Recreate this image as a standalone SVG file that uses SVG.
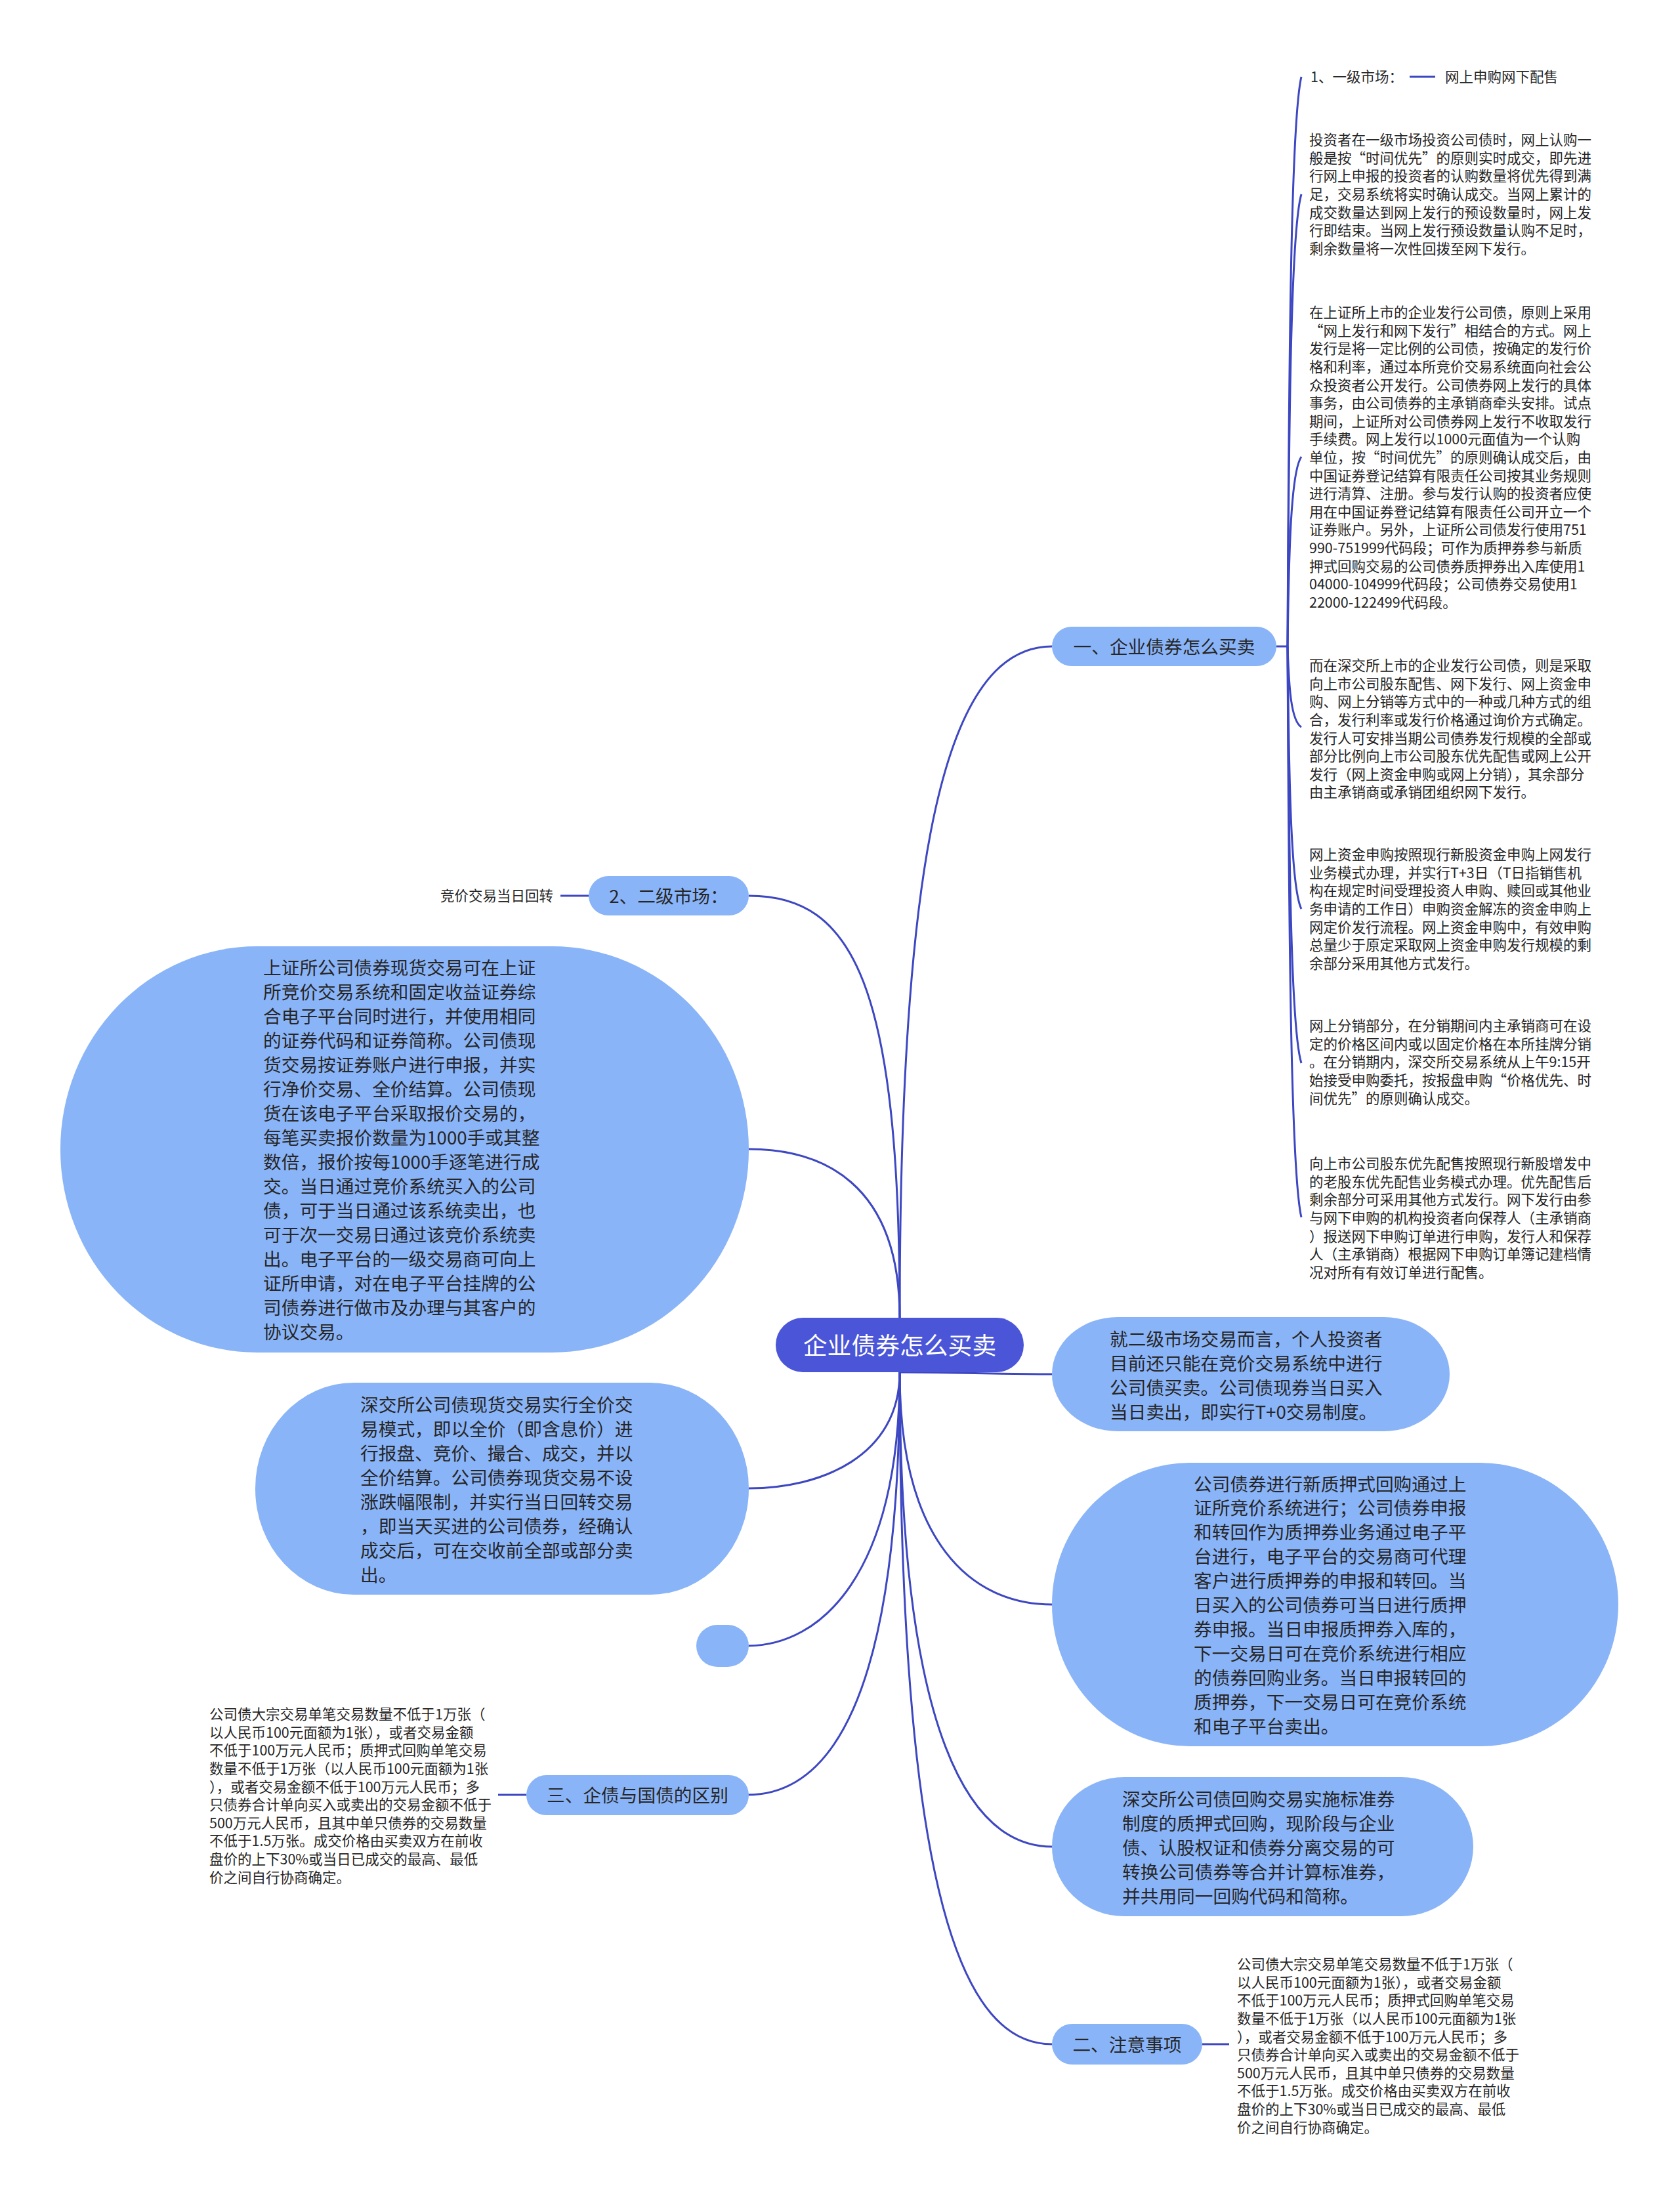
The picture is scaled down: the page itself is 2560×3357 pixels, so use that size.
<svg xmlns="http://www.w3.org/2000/svg" width="2560" height="3357" viewBox="0 0 2560 3357">
<style>
text{font-family:"Noto Sans CJK SC","Noto Sans",sans-serif;fill:#262626}
.leaf{font-size:21.5px}
.nt{font-size:27.7px}
.root{font-size:36.8px;fill:#ffffff}
.lb{fill:#8ab4f8}
.rt{fill:#4a55d8}
.cn path{fill:none;stroke:#3d47c2;stroke-width:3}
</style>
<rect width="2560" height="3357" fill="#ffffff"/>
<g class="cn" id="connectors">
<path d="M1371 2008 C1371 1300 1440 985 1603 985"/>
<path d="M1371 2008 C1371 1500 1300 1365 1141 1365"/>
<path d="M1371 2008 C1371 1800 1250 1751 1141 1751"/>
<path d="M1371 2091 C1450 2091 1500 2094 1603 2094"/>
<path d="M1371 2091 C1371 2220 1250 2268 1141 2268"/>
<path d="M1371 2091 C1371 2400 1250 2508 1139 2508"/>
<path d="M1371 2091 C1371 2600 1260 2735 1139 2735"/>
<path d="M1371 2091 C1371 2350 1480 2445 1603 2445"/>
<path d="M1371 2091 C1371 2650 1480 2814 1603 2814"/>
<path d="M1371 2091 C1371 2900 1470 3115 1603 3115"/>
<path d="M1945 985 L1962 985"/>
<path d="M1962 985 C1964 551 1967 186 1983 117"/>
<path d="M1962 985 C1964 640 1967 351 1983 296"/>
<path d="M1962 985 C1964 840 1967 719 1983 696"/>
<path d="M1962 985 C1964 1046 1967 1098 1983 1108"/>
<path d="M1962 985 C1964 1185 1967 1353 1983 1385"/>
<path d="M1962 985 C1964 1302 1967 1569 1983 1620"/>
<path d="M1962 985 C1964 1420 1967 1785 1983 1855"/>
<path d="M2148 117 L2187 117"/>
<path d="M897 1365 L854 1365"/>
<path d="M802 2735 L759 2735"/>
<path d="M1832 3115 L1873 3115"/>
</g>
<g id="root">
<rect class="rt" x="1182" y="2008" width="378" height="83" rx="41.5"/>
<text class="root" x="1371" y="2063.5" text-anchor="middle">企业债券怎么买卖</text>
</g>
<g id="b1">
<rect class="lb" x="1603" y="955" width="342" height="60" rx="30"/>
<text class="nt" x="1774" y="995.5" text-anchor="middle">一、企业债券怎么买卖</text>
</g>
<g id="b1-l1">
<text class="leaf" x="1997" y="125">1、一级市场：</text>
</g>
<g id="b1-l1-c">
<text class="leaf" x="2202" y="125">网上申购网下配售</text>
</g>
<g id="b1-l2">
<text class="leaf" x="1995" y="221.2"><tspan x="1995">投资者在一级市场投资公司债时，网上认购一</tspan><tspan x="1995" dy="27.6">般是按“时间优先”的原则实时成交，即先进</tspan><tspan x="1995" dy="27.6">行网上申报的投资者的认购数量将优先得到满</tspan><tspan x="1995" dy="27.6">足，交易系统将实时确认成交。当网上累计的</tspan><tspan x="1995" dy="27.6">成交数量达到网上发行的预设数量时，网上发</tspan><tspan x="1995" dy="27.6">行即结束。当网上发行预设数量认购不足时，</tspan><tspan x="1995" dy="27.6">剩余数量将一次性回拨至网下发行。</tspan></text>
</g>
<g id="b1-l3">
<text class="leaf" x="1995" y="484.2"><tspan x="1995">在上证所上市的企业发行公司债，原则上采用</tspan><tspan x="1995" dy="27.6">“网上发行和网下发行”相结合的方式。网上</tspan><tspan x="1995" dy="27.6">发行是将一定比例的公司债，按确定的发行价</tspan><tspan x="1995" dy="27.6">格和利率，通过本所竞价交易系统面向社会公</tspan><tspan x="1995" dy="27.6">众投资者公开发行。公司债券网上发行的具体</tspan><tspan x="1995" dy="27.6">事务，由公司债券的主承销商牵头安排。试点</tspan><tspan x="1995" dy="27.6">期间，上证所对公司债券网上发行不收取发行</tspan><tspan x="1995" dy="27.6">手续费。网上发行以1000元面值为一个认购</tspan><tspan x="1995" dy="27.6">单位，按“时间优先”的原则确认成交后，由</tspan><tspan x="1995" dy="27.6">中国证券登记结算有限责任公司按其业务规则</tspan><tspan x="1995" dy="27.6">进行清算、注册。参与发行认购的投资者应使</tspan><tspan x="1995" dy="27.6">用在中国证券登记结算有限责任公司开立一个</tspan><tspan x="1995" dy="27.6">证券账户。另外，上证所公司债发行使用751</tspan><tspan x="1995" dy="27.6">990-751999代码段；可作为质押券参与新质</tspan><tspan x="1995" dy="27.6">押式回购交易的公司债券质押券出入库使用1</tspan><tspan x="1995" dy="27.6">04000-104999代码段；公司债券交易使用1</tspan><tspan x="1995" dy="27.6">22000-122499代码段。</tspan></text>
</g>
<g id="b1-l4">
<text class="leaf" x="1995" y="1022.2"><tspan x="1995">而在深交所上市的企业发行公司债，则是采取</tspan><tspan x="1995" dy="27.6">向上市公司股东配售、网下发行、网上资金申</tspan><tspan x="1995" dy="27.6">购、网上分销等方式中的一种或几种方式的组</tspan><tspan x="1995" dy="27.6">合，发行利率或发行价格通过询价方式确定。</tspan><tspan x="1995" dy="27.6">发行人可安排当期公司债券发行规模的全部或</tspan><tspan x="1995" dy="27.6">部分比例向上市公司股东优先配售或网上公开</tspan><tspan x="1995" dy="27.6">发行（网上资金申购或网上分销），其余部分</tspan><tspan x="1995" dy="27.6">由主承销商或承销团组织网下发行。</tspan></text>
</g>
<g id="b1-l5">
<text class="leaf" x="1995" y="1310.2"><tspan x="1995">网上资金申购按照现行新股资金申购上网发行</tspan><tspan x="1995" dy="27.6">业务模式办理，并实行T+3日（T日指销售机</tspan><tspan x="1995" dy="27.6">构在规定时间受理投资人申购、赎回或其他业</tspan><tspan x="1995" dy="27.6">务申请的工作日）申购资金解冻的资金申购上</tspan><tspan x="1995" dy="27.6">网定价发行流程。网上资金申购中，有效申购</tspan><tspan x="1995" dy="27.6">总量少于原定采取网上资金申购发行规模的剩</tspan><tspan x="1995" dy="27.6">余部分采用其他方式发行。</tspan></text>
</g>
<g id="b1-l6">
<text class="leaf" x="1995" y="1571.2"><tspan x="1995">网上分销部分，在分销期间内主承销商可在设</tspan><tspan x="1995" dy="27.6">定的价格区间内或以固定价格在本所挂牌分销</tspan><tspan x="1995" dy="27.6">。在分销期内，深交所交易系统从上午9:15开</tspan><tspan x="1995" dy="27.6">始接受申购委托，按报盘申购“价格优先、时</tspan><tspan x="1995" dy="27.6">间优先”的原则确认成交。</tspan></text>
</g>
<g id="b1-l7">
<text class="leaf" x="1995" y="1781.2"><tspan x="1995">向上市公司股东优先配售按照现行新股增发中</tspan><tspan x="1995" dy="27.6">的老股东优先配售业务模式办理。优先配售后</tspan><tspan x="1995" dy="27.6">剩余部分可采用其他方式发行。网下发行由参</tspan><tspan x="1995" dy="27.6">与网下申购的机构投资者向保荐人（主承销商</tspan><tspan x="1995" dy="27.6">）报送网下申购订单进行申购，发行人和保荐</tspan><tspan x="1995" dy="27.6">人（主承销商）根据网下申购订单簿记建档情</tspan><tspan x="1995" dy="27.6">况对所有有效订单进行配售。</tspan></text>
</g>
<g id="b2">
<rect class="lb" x="897" y="1335" width="244" height="60" rx="30"/>
<text class="nt" x="1019" y="1375.5" text-anchor="middle">2、二级市场：</text>
</g>
<g id="b2-l1">
<text class="leaf" x="843" y="1373.2" text-anchor="end">竞价交易当日回转</text>
</g>
<g id="n-shz">
<rect class="lb" x="92" y="1442" width="1049" height="619" rx="300" ry="309"/>
<text class="nt" x="401" y="1484.5"><tspan x="401">上证所公司债券现货交易可在上证</tspan><tspan x="401" dy="37">所竞价交易系统和固定收益证券综</tspan><tspan x="401" dy="37">合电子平台同时进行，并使用相同</tspan><tspan x="401" dy="37">的证券代码和证券简称。公司债现</tspan><tspan x="401" dy="37">货交易按证券账户进行申报，并实</tspan><tspan x="401" dy="37">行净价交易、全价结算。公司债现</tspan><tspan x="401" dy="37">货在该电子平台采取报价交易的，</tspan><tspan x="401" dy="37">每笔买卖报价数量为1000手或其整</tspan><tspan x="401" dy="37">数倍，报价按每1000手逐笔进行成</tspan><tspan x="401" dy="37">交。当日通过竞价系统买入的公司</tspan><tspan x="401" dy="37">债，可于当日通过该系统卖出，也</tspan><tspan x="401" dy="37">可于次一交易日通过该竞价系统卖</tspan><tspan x="401" dy="37">出。电子平台的一级交易商可向上</tspan><tspan x="401" dy="37">证所申请，对在电子平台挂牌的公</tspan><tspan x="401" dy="37">司债券进行做市及办理与其客户的</tspan><tspan x="401" dy="37">协议交易。</tspan></text>
</g>
<g id="n-szx">
<rect class="lb" x="389" y="2107" width="752" height="323" rx="150" ry="161"/>
<text class="nt" x="549" y="2150.5"><tspan x="549">深交所公司债现货交易实行全价交</tspan><tspan x="549" dy="37">易模式，即以全价（即含息价）进</tspan><tspan x="549" dy="37">行报盘、竞价、撮合、成交，并以</tspan><tspan x="549" dy="37">全价结算。公司债券现货交易不设</tspan><tspan x="549" dy="37">涨跌幅限制，并实行当日回转交易</tspan><tspan x="549" dy="37">，即当天买进的公司债券，经确认</tspan><tspan x="549" dy="37">成交后，可在交收前全部或部分卖</tspan><tspan x="549" dy="37">出。</tspan></text>
</g>
<g id="n-empty">
<rect class="lb" x="1061" y="2476" width="80" height="64" rx="32"/>
</g>
<g id="b3">
<rect class="lb" x="802" y="2705" width="339" height="61" rx="30.5"/>
<text class="nt" x="971.5" y="2745.5" text-anchor="middle">三、企债与国债的区别</text>
</g>
<g id="b3-l1">
<text class="leaf" x="319" y="2620.2"><tspan x="319">公司债大宗交易单笔交易数量不低于1万张（</tspan><tspan x="319" dy="27.6">以人民币100元面额为1张），或者交易金额</tspan><tspan x="319" dy="27.6">不低于100万元人民币；质押式回购单笔交易</tspan><tspan x="319" dy="27.6">数量不低于1万张（以人民币100元面额为1张</tspan><tspan x="319" dy="27.6">），或者交易金额不低于100万元人民币；多</tspan><tspan x="319" dy="27.6">只债券合计单向买入或卖出的交易金额不低于</tspan><tspan x="319" dy="27.6">500万元人民币，且其中单只债券的交易数量</tspan><tspan x="319" dy="27.6">不低于1.5万张。成交价格由买卖双方在前收</tspan><tspan x="319" dy="27.6">盘价的上下30%或当日已成交的最高、最低</tspan><tspan x="319" dy="27.6">价之间自行协商确定。</tspan></text>
</g>
<g id="n-jiu">
<rect class="lb" x="1603" y="2007" width="606" height="174" rx="100" ry="87"/>
<text class="nt" x="1691" y="2050.5"><tspan x="1691">就二级市场交易而言，个人投资者</tspan><tspan x="1691" dy="37">目前还只能在竞价交易系统中进行</tspan><tspan x="1691" dy="37">公司债买卖。公司债现券当日买入</tspan><tspan x="1691" dy="37">当日卖出，即实行T+0交易制度。</tspan></text>
</g>
<g id="n-zhiya">
<rect class="lb" x="1603" y="2229" width="863" height="432" rx="210" ry="216"/>
<text class="nt" x="1819" y="2271.5"><tspan x="1819">公司债券进行新质押式回购通过上</tspan><tspan x="1819" dy="36.9">证所竞价系统进行；公司债券申报</tspan><tspan x="1819" dy="36.9">和转回作为质押券业务通过电子平</tspan><tspan x="1819" dy="36.9">台进行，电子平台的交易商可代理</tspan><tspan x="1819" dy="36.9">客户进行质押券的申报和转回。当</tspan><tspan x="1819" dy="36.9">日买入的公司债券可当日进行质押</tspan><tspan x="1819" dy="36.9">券申报。当日申报质押券入库的，</tspan><tspan x="1819" dy="36.9">下一交易日可在竞价系统进行相应</tspan><tspan x="1819" dy="36.9">的债券回购业务。当日申报转回的</tspan><tspan x="1819" dy="36.9">质押券，下一交易日可在竞价系统</tspan><tspan x="1819" dy="36.9">和电子平台卖出。</tspan></text>
</g>
<g id="n-huigou">
<rect class="lb" x="1603" y="2708" width="642" height="212" rx="110" ry="106"/>
<text class="nt" x="1710" y="2751.5"><tspan x="1710">深交所公司债回购交易实施标准券</tspan><tspan x="1710" dy="37">制度的质押式回购，现阶段与企业</tspan><tspan x="1710" dy="37">债、认股权证和债券分离交易的可</tspan><tspan x="1710" dy="37">转换公司债券等合并计算标准券，</tspan><tspan x="1710" dy="37">并共用同一回购代码和简称。</tspan></text>
</g>
<g id="b4">
<rect class="lb" x="1603" y="3084" width="229" height="62" rx="31"/>
<text class="nt" x="1717.5" y="3125.5" text-anchor="middle">二、注意事项</text>
</g>
<g id="b4-l1">
<text class="leaf" x="1885" y="3001.2"><tspan x="1885">公司债大宗交易单笔交易数量不低于1万张（</tspan><tspan x="1885" dy="27.6">以人民币100元面额为1张），或者交易金额</tspan><tspan x="1885" dy="27.6">不低于100万元人民币；质押式回购单笔交易</tspan><tspan x="1885" dy="27.6">数量不低于1万张（以人民币100元面额为1张</tspan><tspan x="1885" dy="27.6">），或者交易金额不低于100万元人民币；多</tspan><tspan x="1885" dy="27.6">只债券合计单向买入或卖出的交易金额不低于</tspan><tspan x="1885" dy="27.6">500万元人民币，且其中单只债券的交易数量</tspan><tspan x="1885" dy="27.6">不低于1.5万张。成交价格由买卖双方在前收</tspan><tspan x="1885" dy="27.6">盘价的上下30%或当日已成交的最高、最低</tspan><tspan x="1885" dy="27.6">价之间自行协商确定。</tspan></text>
</g>
</svg>
